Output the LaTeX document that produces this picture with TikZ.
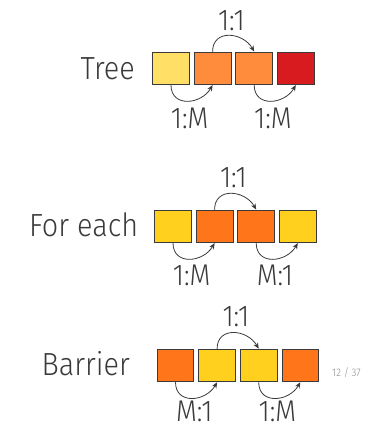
\documentclass[tikz,border=0pt]{standalone}
\usepackage{fontspec}
\setmainfont{Fira Sans Light}[FakeStretch=0.9]
\usetikzlibrary{positioning,arrows.meta}

\definecolor{pale}{HTML}{FFDF66}
\definecolor{peach}{HTML}{FF8C3C}
\definecolor{crimson}{HTML}{D81B1E}
\definecolor{gold}{HTML}{FFD01E}
\definecolor{tang}{HTML}{FF761A}
\definecolor{ink}{HTML}{3A3A3A}

\begin{document}
\begin{tikzpicture}[x=1pt, y=-1pt,
  cell/.style={draw=ink, line width=0.8pt, minimum width=36.7pt, minimum height=32.7pt, inner sep=0pt},
  kind/.style={text=ink, font=\fontsize{32}{36}\selectfont, inner sep=0pt, anchor=east},
  ratio/.style={text=ink, font=\fontsize{30}{34}\selectfont, inner sep=0pt},
  hop/.style={draw=ink, line width=0.8pt, -{Stealth[length=6pt,width=5pt]}},
  node distance=4.1pt]

\useasboundingbox (0,0) rectangle (374,429);

% -------- Tree --------
\node [cell, fill=pale]    (t1) at (171, 68.3) {};
\node [cell, fill=peach]   (t2) [right=of t1] {};
\node [cell, fill=peach]   (t3) [right=of t2] {};
\node [cell, fill=crimson] (t4) [right=of t3] {};
\node [kind] (tname) at (135, 69) {Tree};

\draw [hop] (t2.north) to [out=90, in=120, looseness=1.4] (t3.north);
\draw [hop] (t1.south) to [out=-90, in=-120, looseness=1.4] (t2.south);
\draw [hop] (t3.south) to [out=-90, in=-120, looseness=1.4] (t4.south);

\node [ratio, above=31pt of t2.north east, anchor=center] (tup) {1:1};
\node [ratio, below=33pt of t1.south east, anchor=center] (tdl) {1:M};
\node [ratio, below=33pt of t3.south east, anchor=center] (tdr) {1:M};

% -------- For each --------
\node [cell, fill=gold] (f1) at (173, 226.3) {};
\node [cell, fill=tang] (f2) [right=of f1] {};
\node [cell, fill=tang] (f3) [right=of f2] {};
\node [cell, fill=gold] (f4) [right=of f3] {};
\node [kind] (fname) at (138.3, 224.5) {For each};

\draw [hop] (f2.north) to [out=90, in=120, looseness=1.4] (f3.north);
\draw [hop] (f1.south) to [out=-90, in=-120, looseness=1.4] (f2.south);
\draw [hop] (f3.south) to [out=-90, in=-120, looseness=1.4] (f4.south);

\node [ratio, above=32pt of f2.north east, anchor=center] (fup) {1:1};
\node [ratio, below=32pt of f1.south east, anchor=center] (fdl) {1:M};
\node [ratio, below=32pt of f3.south east, anchor=center] (fdr) {M:1};

% -------- Barrier --------
\node [cell, fill=tang] (b1) at (175.5, 365.5) {};
\node [cell, fill=gold] (b2) [right=of b1] {};
\node [cell, fill=gold] (b3) [right=of b2] {};
\node [cell, fill=tang] (b4) [right=of b3] {};
\node [kind] (bname) at (130, 364) {Barrier};

\draw [hop] (b2.north) to [out=90, in=120, looseness=1.4] (b3.north);
\draw [hop] (b1.south) to [out=-90, in=-120, looseness=1.4] (b2.south);
\draw [hop] (b3.south) to [out=-90, in=-120, looseness=1.4] (b4.south);

\node [ratio, above=32pt of b2.north east, anchor=center] (bup) {1:1};
\node [ratio, below=29.5pt of b1.south east, anchor=center] (bdl) {M:1};
\node [ratio, below=29.5pt of b3.south east, anchor=center] (bdr) {1:M};

% page number
\node [text=black!45, font=\fontsize{11}{13}\selectfont, inner sep=0pt] (page) at (346.5, 372.5) {12 / 37};
\end{tikzpicture}
\end{document}
